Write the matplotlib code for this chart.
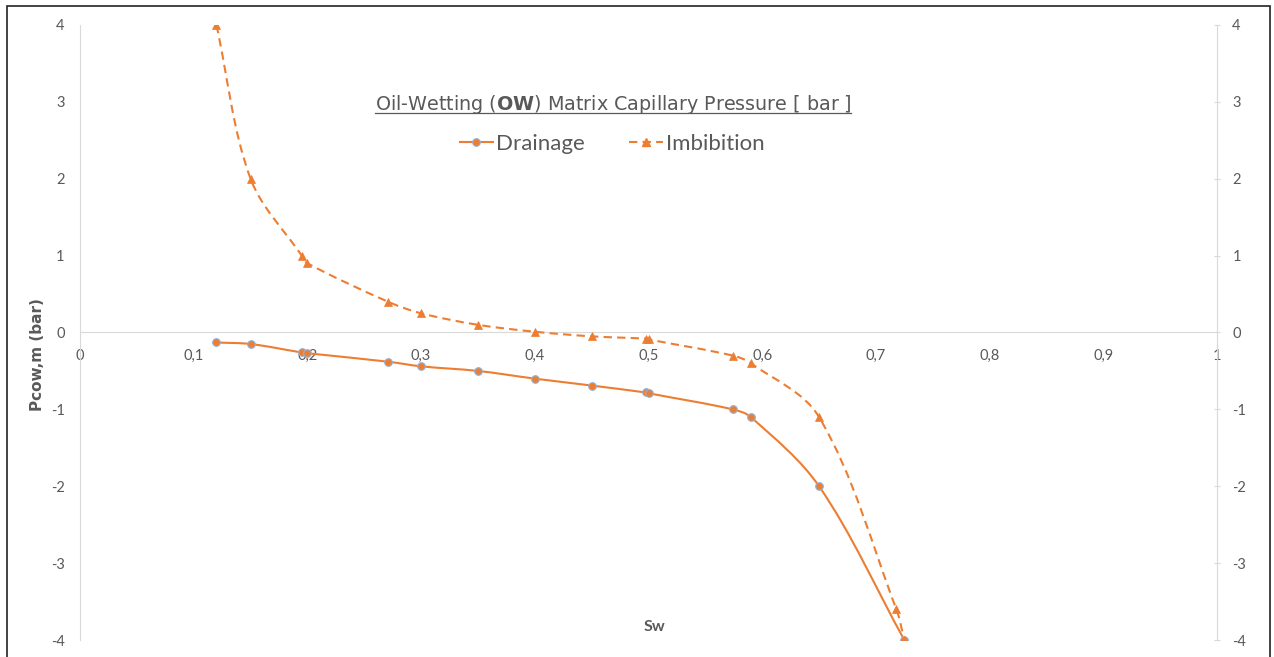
import numpy as np
import matplotlib
matplotlib.use("Agg")
import matplotlib.pyplot as plt
from matplotlib.path import Path
from matplotlib.patches import PathPatch, Rectangle
from matplotlib.lines import Line2D
from matplotlib.ticker import FuncFormatter, MultipleLocator

plt.rcParams['font.family'] = ['Lato', 'DejaVu Sans']
plt.rcParams['mathtext.fontset'] = 'custom'
plt.rcParams['mathtext.rm'] = 'DejaVu Sans'
plt.rcParams['mathtext.bf'] = 'DejaVu Sans:bold'

# drainage / imbibition capillary pressure curves (Sw, Pcow in bar)
sw_drain = [0.12, 0.15, 0.195, 0.20, 0.271, 0.30, 0.35, 0.40, 0.45, 0.4975, 0.50, 0.574, 0.59, 0.65, 0.725]
pc_drain = [-0.13, -0.15, -0.26, -0.27, -0.38, -0.44, -0.50, -0.60, -0.69, -0.78, -0.79, -1.0, -1.1, -2.0, -4.0]

sw_imb = [0.12, 0.15, 0.195, 0.20, 0.271, 0.30, 0.35, 0.40, 0.45, 0.4975, 0.50, 0.574, 0.59, 0.65, 0.718, 0.725]
pc_imb = [4.0, 2.0, 1.0, 0.9, 0.4, 0.25, 0.1, 0.01, -0.05, -0.08, -0.09, -0.3, -0.4, -1.1, -3.6, -4.0]

ORANGE = '#ED7D31'
BLUE = '#8DB4E2'
GREY = '#595959'
AXIS = '#D9D9D9'


def smooth_path(ax, xs, ys):
    # smoothed line through the points: cubic bezier segments built in pixel space
    p = ax.transData.transform(np.column_stack([xs, ys]))
    n = len(p)
    tang = np.zeros_like(p)
    for i in range(n):
        d = p[min(i + 1, n - 1)] - p[max(i - 1, 0)]
        tang[i] = d / np.hypot(*d)
    verts = [p[0]]
    codes = [Path.MOVETO]
    for i in range(n - 1):
        seg = np.hypot(*(p[i + 1] - p[i])) / 3
        verts += [p[i] + tang[i] * seg, p[i + 1] - tang[i + 1] * seg, p[i + 1]]
        codes += [Path.CURVE4] * 3
    verts = ax.transData.inverted().transform(np.array(verts))
    return Path(verts, codes)


fig = plt.figure(figsize=(12.74, 6.57), dpi=100)
ax = fig.add_axes([80 / 1274, 1 - 640 / 657, (1217 - 80) / 1274, 615 / 657])
ax.set_xlim(0, 1)
ax.set_ylim(-4, 4)

ax.add_patch(PathPatch(smooth_path(ax, sw_drain, pc_drain), fill=False, ec=ORANGE, lw=1.5, zorder=3))
ax.add_patch(PathPatch(smooth_path(ax, sw_imb, pc_imb), fill=False, ec=ORANGE, lw=1.5,
                       ls=(0, (4, 2.5)), zorder=3))
ax.plot(sw_drain, pc_drain, ls='none', marker='o', ms=5.5, mfc=ORANGE, mec=BLUE, mew=0.8, zorder=4)
ax.plot(sw_imb, pc_imb, ls='none', marker='^', ms=5.5, mfc=ORANGE, mec=ORANGE, mew=0.5, zorder=4)

ax.xaxis.set_major_locator(MultipleLocator(0.1))
ax.yaxis.set_major_locator(MultipleLocator(1))
ax.xaxis.set_major_formatter(FuncFormatter(lambda v, _: ('%g' % round(v, 1)).replace('.', ',')))
ax.yaxis.set_major_formatter(FuncFormatter(lambda v, _: '%d' % v))

for s in ['top', 'right']:
    ax.spines[s].set_visible(False)
ax.spines['bottom'].set_position(('data', 0))
ax.spines['bottom'].set_color(AXIS)
ax.spines['left'].set_color(AXIS)
ax.tick_params(axis='x', length=0, pad=12, labelsize=10.5, labelcolor=GREY)
ax.tick_params(axis='y', length=0, pad=11, labelsize=10.5, labelcolor=GREY)

ax2 = ax.twinx()
ax2.set_ylim(-4, 4)
ax2.yaxis.set_major_locator(MultipleLocator(1))
ax2.yaxis.set_major_formatter(FuncFormatter(lambda v, _: '%d' % v))
for s in ['top', 'left', 'bottom']:
    ax2.spines[s].set_visible(False)
ax2.spines['right'].set_color(AXIS)
ax2.tick_params(axis='y', length=4, color=AXIS, direction='inout', pad=9,
                labelsize=10.5, labelcolor=GREY)

ax.text(0.505, -3.83, 'Sw', fontsize=11.5, fontweight='bold', color=GREY, ha='center', va='center')
fig.text(38 / 1274, 1 - 355 / 657, 'Pcow,m (bar)', fontsize=11, fontweight='bold',
         family='DejaVu Sans', color=GREY, rotation=90, ha='center', va='center')

# title with bold "OW", underlined
base_y = 657 - 110.5
title = fig.text(613 / 1274, base_y / 657,
                 r'Oil-Wetting ($\mathbf{OW}$) Matrix Capillary Pressure [ bar ]',
                 fontsize=13.8, family='DejaVu Sans', color=GREY, ha='center', va='baseline')
fig.canvas.draw()
bb = title.get_window_extent()
fig.add_artist(Line2D([bb.x0 / 1274, bb.x1 / 1274], [(base_y - 2) / 657] * 2,
                      color=GREY, lw=0.9, transform=fig.transFigure))

handles = [
    Line2D([], [], color=ORANGE, lw=1.5, marker='o', ms=5.5, mfc=ORANGE, mec=BLUE, mew=0.8),
    Line2D([], [], color=ORANGE, lw=1.5, ls=(0, (4, 2.5)), marker='^', ms=5.5, mfc=ORANGE, mec=ORANGE),
]
leg = ax.legend(handles, ['Drainage', 'Imbibition'], loc='center', bbox_to_anchor=(0.468, 0.807),
                ncol=2, frameon=False, fontsize=16, handlelength=1.5, handletextpad=0.15,
                columnspacing=2.0, labelcolor=GREY)

fig.add_artist(Rectangle((7 / 1274, -0.02), 1263 / 1274, 1.02 - 6 / 657, fill=False,
                         ec='#222222', lw=1.2, transform=fig.transFigure))

fig.savefig('out.png', dpi=100, facecolor='white')
